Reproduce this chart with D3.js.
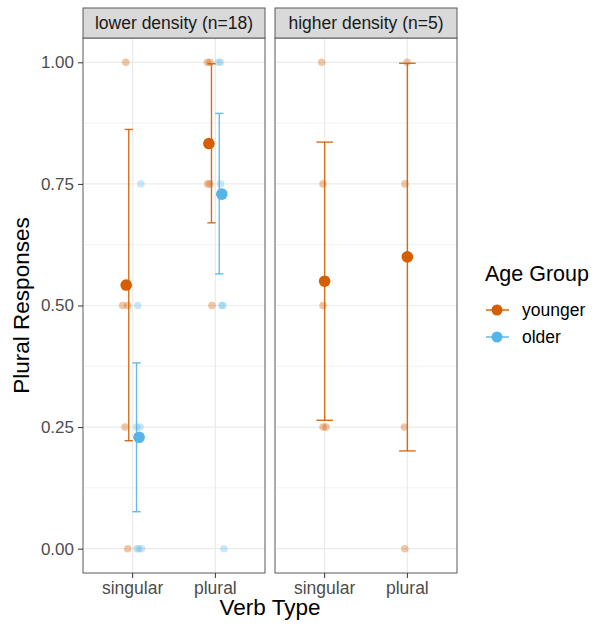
<!DOCTYPE html>
<html>
<head>
<meta charset="utf-8">
<script src="https://cdn.jsdelivr.net/npm/d3@7"></script>
<style>
  html, body { margin: 0; padding: 0; background: #fff; }
  svg { display: block; font-family: "Liberation Sans", Arial, sans-serif; }
</style>
</head>
<body>
<svg id="chart" width="595" height="624"></svg>
<script>
// Facets, verb types and age groups
const panels = ["lower density (n=18)", "higher density (n=5)"];
const verbTypes = ["singular", "plural"];
const ageGroups = ["younger", "older"];
const yTicks = [0, 0.25, 0.5, 0.75, 1];

// Group means with error-bar bounds: [panel, verb, group, mean, low, high]
const summaryRows = [
  [0, "singular", "younger", 0.542, 0.222, 0.862],
  [0, "singular", "older",   0.229, 0.076, 0.382],
  [0, "plural",   "younger", 0.833, 0.670, 0.997],
  [0, "plural",   "older",   0.729, 0.565, 0.895],
  [1, "singular", "younger", 0.550, 0.264, 0.836],
  [1, "plural",   "younger", 0.600, 0.201, 0.998]
];

// Individual participant responses: [panel, verb, group, response, jitter (category units)]
const rawRows = [
  [0, "singular", "younger", 1.00, -0.083],
  [0, "singular", "younger", 0.50, -0.120],
  [0, "singular", "younger", 0.50, -0.059],
  [0, "singular", "younger", 0.25, -0.092],
  [0, "singular", "younger", 0.00, -0.059],
  [0, "singular", "older",   0.75,  0.100],
  [0, "singular", "older",   0.50,  0.062],
  [0, "singular", "older",   0.25,  0.050],
  [0, "singular", "older",   0.25,  0.090],
  [0, "singular", "older",   0.00,  0.050],
  [0, "singular", "older",   0.00,  0.077],
  [0, "singular", "older",   0.00,  0.108],
  [0, "plural",   "younger", 1.00, -0.096],
  [0, "plural",   "younger", 1.00, -0.065],
  [0, "plural",   "younger", 0.75, -0.093],
  [0, "plural",   "younger", 0.75, -0.065],
  [0, "plural",   "younger", 0.50, -0.041],
  [0, "plural",   "older",   1.00,  0.037],
  [0, "plural",   "older",   1.00,  0.062],
  [0, "plural",   "older",   0.75,  0.064],
  [0, "plural",   "older",   0.50,  0.076],
  [0, "plural",   "older",   0.50,  0.092],
  [0, "plural",   "older",   0.00,  0.104],
  [1, "singular", "younger", 1.00, -0.035],
  [1, "singular", "younger", 0.75, -0.019],
  [1, "singular", "younger", 0.50, -0.019],
  [1, "singular", "younger", 0.25, -0.019],
  [1, "singular", "younger", 0.25,  0.017],
  [1, "plural",   "younger", 1.00, -0.004],
  [1, "plural",   "younger", 0.75, -0.028],
  [1, "plural",   "younger", 0.25, -0.036],
  [1, "plural",   "younger", 0.00, -0.031]
];

const colors = { younger: "#D55E00", older: "#56B4E9" };

// Layout
const panelTop = 38, panelBottom = 573;
const panelX = [83, 275];
const panelW = 182;
const stripH = 30;

const svg = d3.select("#chart");

const y = d3.scaleLinear().domain([-0.05, 1.05]).range([panelBottom, panelTop]);
// Discrete x positions 1..2 with 0.6 expansion on each side
const xUnit = d3.scaleLinear().domain([0.4, 2.6]).range([0, panelW]);
const verbIndex = v => verbTypes.indexOf(v) + 1;

// Dodge offsets (category units): means, error bars
const meanDodge = 0.078, barDodge = 0.047;

panels.forEach((title, p) => {
  const g = svg.append("g").attr("transform", `translate(${panelX[p]},0)`);
  const x = u => xUnit(u);
  const groupsHere = ageGroups.filter(a => summaryRows.some(r => r[0] === p && r[2] === a));
  const dodged = groupsHere.length > 1;

  // Panel background grid
  const minor = [0.125, 0.375, 0.625, 0.875];
  g.selectAll(".minor").data(minor).join("line")
    .attr("x1", 0).attr("x2", panelW)
    .attr("y1", d => y(d)).attr("y2", d => y(d))
    .attr("stroke", "#EBEBEB").attr("stroke-width", 0.6);
  g.selectAll(".major").data(yTicks).join("line")
    .attr("x1", 0).attr("x2", panelW)
    .attr("y1", d => y(d)).attr("y2", d => y(d))
    .attr("stroke", "#EBEBEB").attr("stroke-width", 1.2);
  g.selectAll(".vmajor").data(verbTypes).join("line")
    .attr("x1", d => x(verbIndex(d))).attr("x2", d => x(verbIndex(d)))
    .attr("y1", panelTop).attr("y2", panelBottom)
    .attr("stroke", "#EBEBEB").attr("stroke-width", 1.2);

  // Raw responses
  g.selectAll(".raw").data(rawRows.filter(r => r[0] === p)).join("circle")
    .attr("cx", d => x(verbIndex(d[1]) + d[4]))
    .attr("cy", d => y(d[3]))
    .attr("r", 3.8)
    .attr("fill", d => colors[d[2]])
    .attr("fill-opacity", d => d[2] === "older" ? 0.3 : 0.35);

  const rows = summaryRows.filter(r => r[0] === p);
  const sign = a => dodged ? (a === "younger" ? -1 : 1) : 0;
  const capHalf = dodged ? 0.05 : 0.1;

  // Error bars
  const eb = g.selectAll(".eb").data(rows).join("g")
    .attr("stroke", d => colors[d[2]]).attr("stroke-width", 1.4)
    .attr("stroke-opacity", 0.9);
  eb.append("line")
    .attr("x1", d => x(verbIndex(d[1]) + sign(d[2]) * barDodge))
    .attr("x2", d => x(verbIndex(d[1]) + sign(d[2]) * barDodge))
    .attr("y1", d => y(d[4])).attr("y2", d => y(d[5]));
  [4, 5].forEach(k => {
    eb.append("line")
      .attr("x1", d => x(verbIndex(d[1]) + sign(d[2]) * barDodge - capHalf))
      .attr("x2", d => x(verbIndex(d[1]) + sign(d[2]) * barDodge + capHalf))
      .attr("y1", d => y(d[k])).attr("y2", d => y(d[k]));
  });

  // Means
  g.selectAll(".mean").data(rows).join("circle")
    .attr("cx", d => x(verbIndex(d[1]) + sign(d[2]) * meanDodge))
    .attr("cy", d => y(d[3]))
    .attr("r", 5.8)
    .attr("fill", d => colors[d[2]]);

  // Panel border
  g.append("rect").attr("x", 0).attr("y", panelTop)
    .attr("width", panelW).attr("height", panelBottom - panelTop)
    .attr("fill", "none").attr("stroke", "#5a5a5a").attr("stroke-width", 1);

  // Strip
  g.append("rect").attr("x", 0).attr("y", panelTop - stripH)
    .attr("width", panelW).attr("height", stripH)
    .attr("fill", "#D9D9D9").attr("stroke", "#5a5a5a").attr("stroke-width", 1);
  g.append("text").attr("x", panelW / 2).attr("y", 29)
    .attr("text-anchor", "middle")
    .attr("font-size", 17.5).attr("fill", "#1A1A1A").text(title);

  // X axis
  const xAxis = g.append("g");
  verbTypes.forEach(v => {
    const xp = x(verbIndex(v));
    xAxis.append("line").attr("x1", xp).attr("x2", xp)
      .attr("y1", panelBottom).attr("y2", panelBottom + 5)
      .attr("stroke", "#333").attr("stroke-width", 1);
    xAxis.append("text").attr("x", xp).attr("y", 594)
      .attr("text-anchor", "middle").attr("font-size", 17.5)
      .attr("fill", "#4D4D4D").text(v);
  });
});

// Y axis on the first panel
const yAxisG = svg.append("g").attr("transform", `translate(${panelX[0]},0)`);
yAxisG.call(d3.axisLeft(y).tickValues(yTicks).tickFormat(d3.format(".2f")).tickSize(5).tickPadding(4))
  .call(s => s.select(".domain").remove())
  .call(s => s.selectAll(".tick line").attr("stroke", "#333"))
  .call(s => s.selectAll(".tick text").attr("font-size", 17).attr("fill", "#4D4D4D")
    .attr("font-family", "Liberation Sans, Arial, sans-serif"));

// Axis titles
svg.append("text")
  .attr("x", (panelX[0] + panelX[1] + panelW) / 2).attr("y", 615)
  .attr("text-anchor", "middle").attr("font-size", 22.5).attr("fill", "#000")
  .text("Verb Type");
svg.append("text")
  .attr("transform", `translate(29,${(panelTop + panelBottom) / 2}) rotate(-90)`)
  .attr("text-anchor", "middle").attr("font-size", 22.5).attr("fill", "#000")
  .text("Plural Responses");

// Legend
const legend = svg.append("g").attr("transform", "translate(485,0)");
legend.append("text").attr("x", 0).attr("y", 281)
  .attr("font-size", 21.5).attr("fill", "#000").text("Age Group");
ageGroups.forEach((a, i) => {
  const cy = 310 + i * 27;
  legend.append("line").attr("x1", 1).attr("x2", 24).attr("y1", cy).attr("y2", cy)
    .attr("stroke", colors[a]).attr("stroke-width", 1.4);
  legend.append("circle").attr("cx", 12).attr("cy", cy).attr("r", 5.5).attr("fill", colors[a]);
  legend.append("text").attr("x", 37).attr("y", cy).attr("dy", "0.35em")
    .attr("font-size", 17.5).attr("fill", "#000").text(a);
});
</script>
</body>
</html>
